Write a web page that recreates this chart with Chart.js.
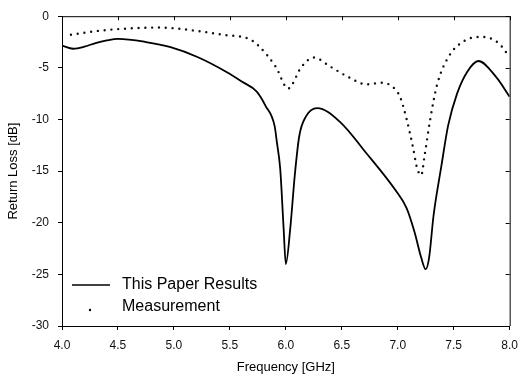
<!DOCTYPE html>
<html>
<head>
<meta charset="utf-8">
<script src="https://cdn.jsdelivr.net/npm/chart.js@4.4.1/dist/chart.umd.min.js"></script>
<style>
  html, body { margin: 0; padding: 0; background: #fff; }
  #wrap { width: 526px; height: 385px; }
</style>
</head>
<body>
<div id="wrap"><canvas id="myChart" width="526" height="385"></canvas></div>
<script>
// simulated curve ("This Paper Results")
const freqSim = [4.00, 4.10, 4.20, 4.30, 4.40, 4.50, 4.75, 4.97, 5.21, 5.47, 5.61, 5.74, 5.82, 5.90, 5.92, 5.95, 5.98, 6.00, 6.04, 6.08, 6.12, 6.18, 6.28, 6.49, 6.70, 6.99, 7.08, 7.15, 7.21, 7.25, 7.28, 7.32, 7.39, 7.45, 7.53, 7.62, 7.72, 7.88, 8.00];
const lossSim = [-2.85, -3.15, -2.95, -2.6, -2.35, -2.2, -2.5, -3.0, -3.95, -5.4, -6.35, -7.3, -8.7, -10.65, -12.2, -14.8, -20.5, -24.0, -20.5, -15.4, -11.6, -9.7, -8.9, -10.3, -13.0, -17.0, -18.6, -20.9, -23.4, -24.5, -23.4, -19.3, -14.5, -10.6, -7.5, -5.4, -4.34, -5.9, -7.8];

// measured points
const freqMeas = [4.08, 4.20, 4.30, 4.50, 4.87, 5.19, 5.44, 5.67, 5.75, 5.91, 6.02, 6.14, 6.25, 6.40, 6.56, 6.72, 6.85, 6.95, 7.02, 7.08, 7.14, 7.17, 7.21, 7.24, 7.29, 7.35, 7.45, 7.60, 7.75, 7.90, 8.00];
const lossMeas = [-1.8, -1.6, -1.45, -1.25, -1.1, -1.4, -1.8, -2.2, -2.8, -4.9, -7.0, -4.9, -4.0, -4.9, -5.9, -6.6, -6.45, -6.8, -7.8, -10.0, -12.9, -14.6, -15.4, -13.5, -10.0, -6.7, -4.0, -2.36, -2.0, -2.6, -3.96];

const xTicks = [4.0, 4.5, 5.0, 5.5, 6.0, 6.5, 7.0, 7.5, 8.0];
const yTicks = [0, -5, -10, -15, -20, -25, -30];

const ctx = document.getElementById('myChart').getContext('2d');
const fontFam = '"Liberation Sans", Arial, sans-serif';

// box round the plot, with inward ticks on top and right
const frame = {
  id: 'frame',
  afterDraw(chart) {
    const c = chart.ctx, a = chart.chartArea;
    const sx = chart.scales.x, sy = chart.scales.y;
    c.save();
    c.strokeStyle = '#000';
    c.lineWidth = 1;
    c.beginPath();
    c.moveTo(a.left, a.top + 0.5);
    c.lineTo(a.right + 0.5, a.top + 0.5);
    c.lineTo(a.right + 0.5, a.bottom);
    xTicks.forEach(v => {
      const px = Math.round(sx.getPixelForValue(v)) + 0.5;
      c.moveTo(px, a.top);
      c.lineTo(px, a.top + 4);
    });
    yTicks.forEach(v => {
      const py = Math.round(sy.getPixelForValue(v)) + 0.5;
      c.moveTo(a.right, py);
      c.lineTo(a.right - 4, py);
    });
    c.stroke();
    c.restore();
  }
};

// legend in lower left of the plot
const legendBox = {
  id: 'legendBox',
  afterDatasetsDraw(chart) {
    const c = chart.ctx, a = chart.chartArea;
    const ds = chart.data.datasets;
    const x0 = a.left + 10;
    const rows = [a.bottom - 41, a.bottom - 19];
    c.save();
    c.font = '16px ' + fontFam;
    c.textBaseline = 'middle';
    c.fillStyle = '#000';
    // solid line sample
    c.strokeStyle = '#000';
    c.lineWidth = 1.5;
    c.beginPath();
    c.moveTo(x0, rows[0]);
    c.lineTo(x0 + 38, rows[0]);
    c.stroke();
    c.fillText(ds[0].label, x0 + 50, rows[0]);
    // single dot sample
    c.beginPath();
    c.arc(x0 + 18, rows[1] + 3, 1.2, 0, Math.PI * 2);
    c.fill();
    c.fillText(ds[1].label, x0 + 50, rows[1]);
    c.restore();
  }
};

const data = {
  datasets: [
    {
      label: 'This Paper Results',
      data: freqSim.map((f, i) => ({ x: f, y: lossSim[i] })),
      borderColor: '#000',
      borderWidth: 1.8,
      pointRadius: 0,
      cubicInterpolationMode: 'monotone'
    },
    {
      label: 'Measurement',
      data: freqMeas.map((f, i) => ({ x: f, y: lossMeas[i] })),
      borderColor: '#111',
      borderWidth: 2.4,
      borderDash: [0, 6.8],
      borderCapStyle: 'round',
      pointRadius: 0,
      cubicInterpolationMode: 'monotone'
    }
  ]
};

const config = {
  type: 'line',
  data: data,
  options: {
    responsive: false,
    animation: false,
    layout: { padding: { top: 12, right: 8, left: 0, bottom: 0 } },
    plugins: { legend: { display: false }, tooltip: { enabled: false } },
    scales: {
      x: {
        type: 'linear',
        min: 4, max: 8,
        afterBuildTicks: s => { s.ticks = xTicks.map(v => ({ value: v })); },
        afterFit: s => { s.height = 59; },
        grid: { drawOnChartArea: false, tickLength: 4, color: '#000' },
        border: { color: '#000', width: 1 },
        ticks: {
          color: '#111', padding: 8,
          font: { family: fontFam, size: 12 },
          callback: v => Number(v).toFixed(1)
        },
        title: {
          display: true, text: 'Frequency [GHz]', color: '#000',
          font: { family: fontFam, size: 13 },
          padding: { top: 0, bottom: 10 }
        }
      },
      y: {
        min: -30, max: 0,
        afterBuildTicks: s => { s.ticks = yTicks.map(v => ({ value: v })); },
        afterFit: s => { s.width = 62; },
        grid: { drawOnChartArea: false, tickLength: 4, color: '#000' },
        border: { color: '#000', width: 1 },
        ticks: {
          color: '#111', padding: 9,
          font: { family: fontFam, size: 12 },
          callback: v => String(v)
        },
        title: {
          display: true, text: 'Return Loss [dB]', color: '#000',
          font: { family: fontFam, size: 13 },
          padding: { top: 6, bottom: 0 }
        }
      }
    }
  },
  plugins: [frame, legendBox]
};

const myChart = new Chart(ctx, config);
</script>
</body>
</html>
